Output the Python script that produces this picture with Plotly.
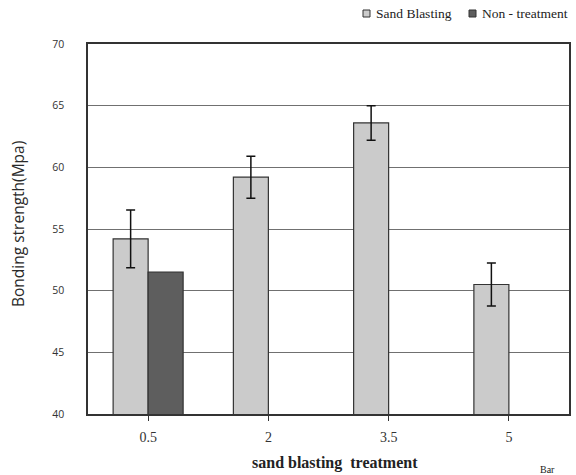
import plotly.graph_objects as go

# Data
categories = ["0.5", "2", "3.5", "5"]
sand_blasting = [54.2, 59.2, 63.6, 50.5]
sand_blasting_err = [2.35, 1.7, 1.4, 1.75]
non_treatment = [51.5, None, None, None]
series_names = ["Sand Blasting", "Non - treatment"]
y_ticks = [40, 45, 50, 55, 60, 65, 70]

W, H = 576, 475
L, R, T, B = 88, 7, 44, 61
PW, PH = W - L - R, H - T - B


def px_x(x):
    return (x - L) / PW


def px_y(y):
    return (H - B - y) / PH


light = "#cbcbcb"
dark = "#5e5e5e"
edge = "#333333"
serif = "Liberation Serif"
sans = "Open Sans"

fig = go.Figure()
fig.add_trace(go.Bar(
    x=categories, y=sand_blasting, name=series_names[0],
    marker=dict(color=light, line=dict(color=edge, width=1.2)),
    error_y=dict(type="data", array=sand_blasting_err, visible=True,
                 color="#111111", thickness=1.5, width=4.5),
))
fig.add_trace(go.Bar(
    x=categories, y=non_treatment, name=series_names[1],
    marker=dict(color=dark, line=dict(color=edge, width=1.2)),
))

fig.update_layout(
    width=W, height=H,
    margin=dict(l=L, r=R, t=T, b=B, autoexpand=False),
    paper_bgcolor="white", plot_bgcolor="white",
    barmode="group", bargap=0.418, bargroupgap=0,
    showlegend=False,
    xaxis=dict(
        type="category", categoryorder="array", categoryarray=categories,
        showline=True, linecolor=edge, linewidth=1.5, mirror=True,
        ticks="outside", ticklen=5, tickcolor=edge, tickwidth=1,
        tickfont=dict(family=serif, size=14, color="#333333"),
        ticklabelstandoff=4, showgrid=False,
    ),
    yaxis=dict(
        range=[40, 70], tickvals=y_ticks,
        showline=True, linecolor=edge, linewidth=1.5, mirror=True,
        showgrid=True, gridcolor="#707070", gridwidth=1,
        ticks="", tickfont=dict(family=sans, size=10.5, color="#333333"),
        ticklabelstandoff=20, zeroline=False,
    ),
)

# Legend drawn as small squares with labels above the plot
legend_items = [(363, light, series_names[0]), (469, dark, series_names[1])]
for x0, col, label in legend_items:
    fig.add_shape(type="rect", xref="paper", yref="paper",
                  x0=px_x(x0), x1=px_x(x0 + 7), y0=px_y(17), y1=px_y(10),
                  fillcolor=col, line=dict(color=edge, width=1))
    fig.add_annotation(x=px_x(x0 + 11), y=px_y(13.5), xref="paper", yref="paper",
                       text=label, showarrow=False, xanchor="left", yanchor="middle",
                       font=dict(family=serif, size=13.5, color="#222222"))

# Axis titles
fig.add_annotation(x=px_x(18), y=px_y(224), xref="paper", yref="paper",
                   text="Bonding strength(Mpa)", textangle=-90, showarrow=False,
                   xanchor="center", yanchor="middle",
                   font=dict(family=sans, size=15.5, color="#2a2a2a"))
fig.add_annotation(x=px_x(335), y=px_y(463), xref="paper", yref="paper",
                   text="<b>sand blasting  treatment</b>", showarrow=False,
                   xanchor="center", yanchor="middle",
                   font=dict(family=serif, size=16, color="#222222"))
fig.add_annotation(x=px_x(547), y=px_y(469), xref="paper", yref="paper",
                   text="Bar", showarrow=False, xanchor="center", yanchor="middle",
                   font=dict(family=serif, size=10, color="#222222"))

fig.write_html("out.html")
